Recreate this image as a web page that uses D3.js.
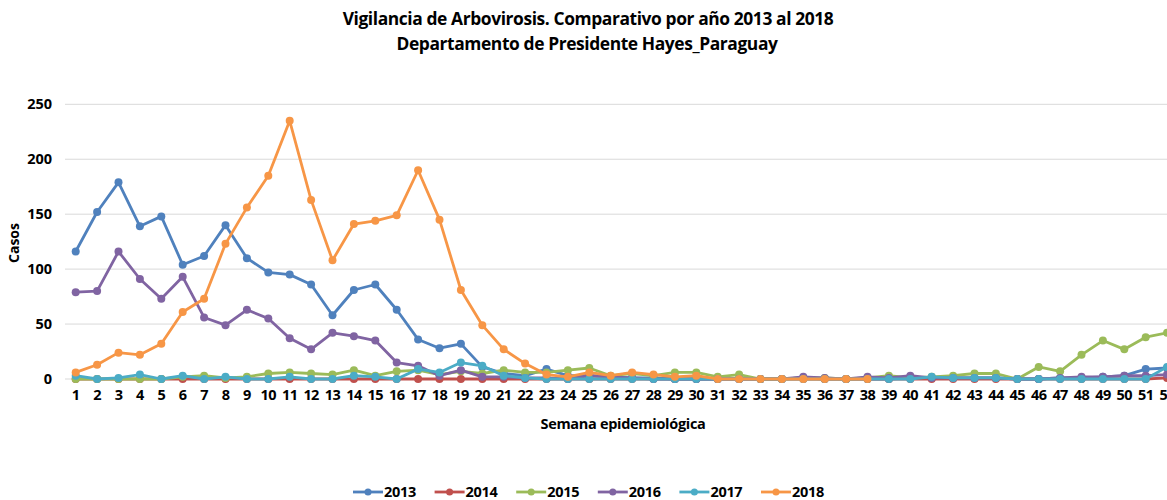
<!DOCTYPE html>
<html>
<head>
<meta charset="utf-8">
<script src="https://cdn.jsdelivr.net/npm/d3@7"></script>
<style>
  body { margin: 0; background: #fff; }
  text { font-family: "Open Sans", "Noto Sans", sans-serif; fill: #000; }
</style>
</head>
<body>
<svg id="chart" width="1167" height="500"></svg>
<script>
const weeks = d3.range(1, 53)
const years = ['2013', '2014', '2015', '2016', '2017', '2018']
const colors = ['#4f81bd', '#c0504d', '#9bbb59', '#8064a2', '#4bacc6', '#f79646']

const cases2013 = [116, 152, 179, 139, 148, 104, 112, 140, 110, 97, 95, 86, 58, 81, 86, 63, 36, 28, 32, 11,
  5, 3, 9, 3, 3, 2, 1, 1, 0, 0, 0, 0, 0, 0, 1, 0, 0, 0, 0, 1, 1, 1, 1, 1, 0, 0, 1, 1, 2, 3, 9, 10]
const cases2014 = [0, 0, 0, 0, 0, 0, 0, 0, 0, 0, 0, 0, 0, 0, 0, 0, 0, 0, 0, 0,
  0, 0, 0, 0, 0, 0, 0, 0, 0, 0, 0, 0, 0, 0, 0, 0, 0, 0, 0, 0, 0, 0, 0, 0, 0, 0, 0, 0, 0, 0, 0, 1]
const cases2015 = [0, 0, 0, 0, 0, 2, 3, 1, 2, 5, 6, 5, 4, 8, 3, 7, 8, 4, 7, 5,
  8, 6, 6, 8, 10, 3, 5, 3, 6, 6, 2, 4, 0, 0, 1, 1, 0, 1, 3, 1, 2, 3, 5, 5, 0, 11, 7, 22, 35, 27, 38, 42]
const cases2016 = [79, 80, 116, 91, 73, 93, 56, 49, 63, 55, 37, 27, 42, 39, 35, 15, 12, 3, 8, 2,
  2, 1, 1, 0, 3, 2, 1, 0, 0, 0, 0, 0, 0, 0, 2, 1, 0, 2, 1, 3, 1, 1, 1, 1, 0, 0, 1, 2, 2, 3, 3, 4]
const cases2017 = [3, 0, 1, 4, 0, 3, 0, 2, 0, 0, 2, 0, 0, 3, 2, 0, 9, 6, 15, 12,
  3, 1, 0, 0, 0, 0, 0, 0, 0, 0, 0, 0, 0, 0, 0, 0, 0, 0, 0, 0, 2, 1, 1, 1, 0, 0, 0, 0, 0, 0, 0, 11]
const cases2018 = [6, 13, 24, 22, 32, 61, 73, 123, 156, 185, 235, 163, 108, 141, 144, 149, 190, 145, 81, 49,
  27, 14, 4, 2, 6, 3, 6, 4, 2, 3, 0, 0, 0, 0, 0, 0, 0, 0]
const yTicks = [0, 50, 100, 150, 200, 250]

const seriesValues = [cases2013, cases2014, cases2015, cases2016, cases2017, cases2018]
const series = years.map((year, i) => ({
  year,
  color: colors[i],
  points: seriesValues[i].map((v, j) => ({ week: weeks[j], value: v }))
}))

const svg = d3.select('#chart')
const plotLeft = 65
const bandW = 21.4
const plotTop = 104.3
const plotBottom = 379

// the category axis runs past the right edge, as in the original export
const xScale = d3.scaleBand().domain(weeks).range([plotLeft, plotLeft + bandW * weeks.length])
const yScale = d3.scaleLinear().domain([0, 250]).range([plotBottom, plotTop])
const cx = (d) => xScale(d.week) + xScale.bandwidth() / 2

// title
const title = svg.append('g').attr('font-weight', 700).attr('font-size', 17.4).attr('text-anchor', 'middle')
title.append('text').attr('x', 588).attr('y', 25).attr('letter-spacing', -0.4)
  .text('Vigilancia de Arbovirosis. Comparativo por año 2013 al 2018')
title.append('text').attr('x', 587).attr('y', 50).attr('letter-spacing', -0.4)
  .text('Departamento de Presidente Hayes_Paraguay')

// gridlines
svg.append('g')
  .selectAll('line')
  .data(yTicks)
  .join('line')
  .attr('x1', plotLeft)
  .attr('x2', 1167)
  .attr('y1', (d) => yScale(d))
  .attr('y2', (d) => yScale(d))
  .attr('stroke', '#d9d9d9')
  .attr('stroke-width', 1)

// y axis
const yAxis = svg.append('g')
  .attr('transform', `translate(${plotLeft - 10},0)`)
  .call(d3.axisLeft(yScale).tickValues(yTicks).tickSize(0))
yAxis.select('.domain').remove()
yAxis.selectAll('text').attr('font-size', 14.5).attr('font-weight', 700).attr('font-family', '"Open Sans", sans-serif').attr('fill', '#000')

// x axis
const xAxis = svg.append('g')
  .attr('transform', `translate(0,${plotBottom + 8})`)
  .call(d3.axisBottom(xScale).tickSize(0))
xAxis.select('.domain').remove()
xAxis.selectAll('text').attr('font-size', 14.5).attr('font-weight', 700).attr('font-family', '"Open Sans", sans-serif').attr('fill', '#000').attr('letter-spacing', -0.6)

svg.append('text')
  .attr('transform', 'translate(19,243) rotate(-90)')
  .attr('text-anchor', 'middle')
  .attr('font-size', 14)
  .attr('font-weight', 700)
  .text('Casos')

svg.append('text')
  .attr('x', 623)
  .attr('y', 429)
  .attr('text-anchor', 'middle')
  .attr('font-size', 14.5)
  .attr('font-weight', 700)
  .attr('letter-spacing', -0.3)
  .text('Semana epidemiológica')

// lines and markers
const line = d3.line().x(cx).y((d) => yScale(d.value))
const groups = svg.append('g')
  .selectAll('g')
  .data(series)
  .join('g')

groups.append('path')
  .attr('d', (d) => line(d.points))
  .attr('fill', 'none')
  .attr('stroke', (d) => d.color)
  .attr('stroke-width', 2.8)
  .attr('stroke-linejoin', 'round')

groups.selectAll('circle')
  .data((d) => d.points.map((p) => ({ ...p, color: d.color })))
  .join('circle')
  .attr('cx', cx)
  .attr('cy', (d) => yScale(d.value))
  .attr('r', 4)
  .attr('fill', (d) => d.color)

// legend
const legend = svg.append('g')
  .selectAll('g')
  .data(series)
  .join('g')
  .attr('transform', (d, i) => `translate(${353 + i * 81.6},492)`)

legend.append('line')
  .attr('x1', 0).attr('x2', 30)
  .attr('stroke', (d) => d.color)
  .attr('stroke-width', 2.8)
legend.append('circle')
  .attr('cx', 15).attr('r', 3.5)
  .attr('fill', (d) => d.color)
legend.append('text')
  .attr('x', 31)
  .attr('y', 5)
  .attr('font-size', 14.5)
  .attr('font-weight', 700)
  .attr('letter-spacing', -0.3)
  .text((d) => d.year)
</script>
</body>
</html>
